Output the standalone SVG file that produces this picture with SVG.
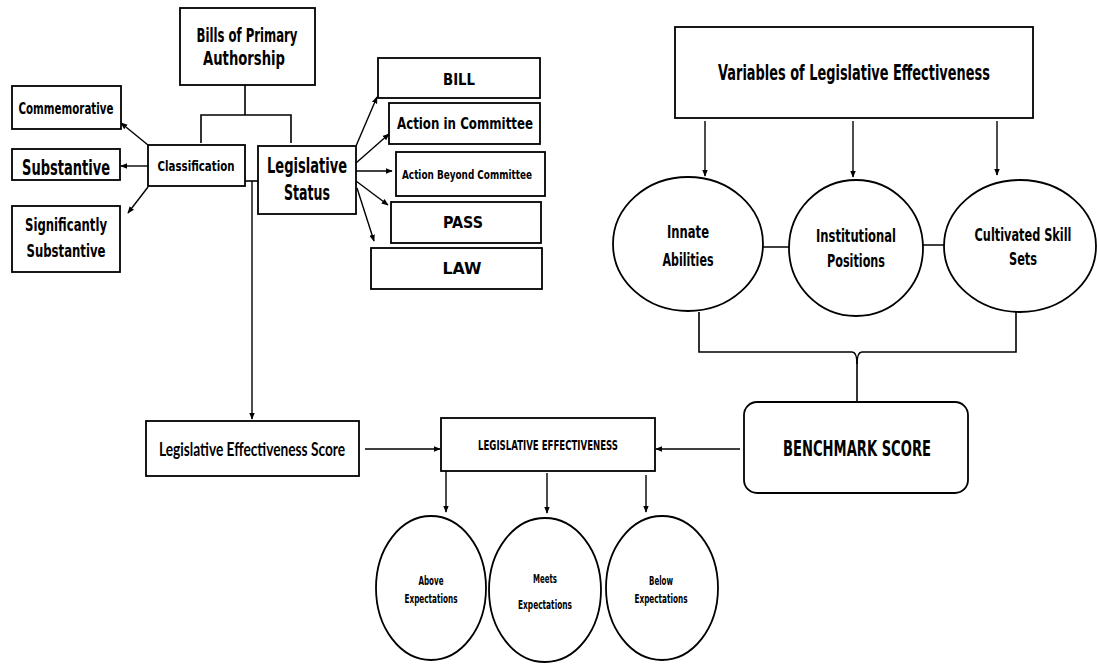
<svg xmlns="http://www.w3.org/2000/svg" width="1097" height="664" viewBox="0 0 1097 664">
<style>
.b{fill:#fff;stroke:#000;stroke-width:1.8}
.t{font-family:"DejaVu Sans Condensed","DejaVu Sans",sans-serif;font-weight:bold;fill:#000;text-anchor:middle}
.c{font-family:Lato,"Liberation Sans",sans-serif;font-weight:bold;fill:#000;text-anchor:middle}
.l{fill:none;stroke:#000;stroke-width:1.6}
.a{fill:none;stroke:#000;stroke-width:1.4;marker-end:url(#ah)}
</style>
<defs>
<marker id="ah" viewBox="0 0 10 10" refX="9" refY="5" markerWidth="7" markerHeight="7" orient="auto" markerUnits="userSpaceOnUse">
<path d="M0,1 L10,5 L0,9 z" fill="#000"/>
</marker>
</defs>
<rect width="1097" height="664" fill="#fff"/>

<g id="connectors">
<path class="l" d="M245,85 V115 M201,143 V115 H291 V143"/>
<path class="a" d="M148,145 L121,123"/>
<path class="a" d="M148,166 H121"/>
<path class="a" d="M148,187 L128,213"/>
<path class="l" d="M245,181 H258"/>
<path class="a" d="M252,181 V419"/>
<path class="a" d="M356,146 L377,97"/>
<path class="a" d="M356,163 L389,134"/>
<path class="a" d="M356,171 H392"/>
<path class="a" d="M356,181 L388,205"/>
<path class="a" d="M357,188 L374,241"/>
<path class="a" d="M705,121 V176"/>
<path class="a" d="M853,121 V177"/>
<path class="a" d="M997,121 V175"/>
<path class="l" d="M763,247 H789 M923,245 H944"/>
<path class="l" d="M699,312 V352 H852 Q857,352 857,364 Q857,352 862,352 H1016 V312"/>
<path class="l" d="M857,362 V402"/>
<path class="a" d="M365,449 H440"/>
<path class="a" d="M740,449 H656"/>
<path class="a" d="M446,471 V512"/>
<path class="a" d="M547,473 V513"/>
<path class="a" d="M646,475 V512"/>
</g>

<g id="bills">
<rect class="b" x="180" y="8" width="135" height="77"/>
<text class="t" x="247" y="42" font-size="19.5" textLength="101" lengthAdjust="spacingAndGlyphs">Bills of Primary</text>
<text class="t" x="244" y="65" font-size="19.5" textLength="82" lengthAdjust="spacingAndGlyphs">Authorship</text>
</g>
<g id="commemorative">
<rect class="b" x="12" y="86" width="109" height="43"/>
<text class="t" x="66" y="114" font-size="15" textLength="95" lengthAdjust="spacingAndGlyphs">Commemorative</text>
</g>
<g id="substantive">
<rect class="b" x="12" y="149" width="108" height="31"/>
<text class="t" x="66" y="175" font-size="20.5" textLength="88" lengthAdjust="spacingAndGlyphs">Substantive</text>
</g>
<g id="significantly">
<rect class="b" x="12" y="206" width="108" height="66"/>
<text class="t" x="66" y="231" font-size="17.5" textLength="82" lengthAdjust="spacingAndGlyphs">Significantly</text>
<text class="t" x="66" y="257" font-size="17.5" textLength="79" lengthAdjust="spacingAndGlyphs">Substantive</text>
</g>
<g id="classification">
<rect class="b" x="148" y="145" width="97" height="41"/>
<text class="t" x="196" y="171" font-size="14.5" textLength="77" lengthAdjust="spacingAndGlyphs">Classification</text>
</g>
<g id="status">
<rect class="b" x="258" y="146" width="98" height="68"/>
<text class="t" x="307" y="173" font-size="21.5" textLength="80" lengthAdjust="spacingAndGlyphs">Legislative</text>
<text class="t" x="307" y="200" font-size="21.5" textLength="46" lengthAdjust="spacingAndGlyphs">Status</text>
</g>
<g id="bill">
<rect class="b" x="378" y="58" width="162" height="40"/>
<text class="t" x="459" y="85" font-size="15" textLength="32" lengthAdjust="spacingAndGlyphs">BILL</text>
</g>
<g id="committee">
<rect class="b" x="389" y="103" width="151" height="41"/>
<text class="t" x="465" y="129" font-size="16" textLength="136" lengthAdjust="spacingAndGlyphs">Action in Committee</text>
</g>
<g id="beyond">
<rect class="b" x="396" y="152" width="149" height="44" stroke-width="1.2"/>
<text class="t" x="467" y="179" font-size="12.5" textLength="130" lengthAdjust="spacingAndGlyphs">Action Beyond Committee</text>
</g>
<g id="pass">
<rect class="b" x="391" y="202" width="150" height="41"/>
<text class="t" x="463" y="228" font-size="15" textLength="40" lengthAdjust="spacingAndGlyphs">PASS</text>
</g>
<g id="law">
<rect class="b" x="371" y="248" width="171" height="41"/>
<text class="t" x="462" y="274" font-size="15" textLength="39" lengthAdjust="spacingAndGlyphs">LAW</text>
</g>
<g id="variables">
<rect class="b" x="675" y="27" width="358" height="91"/>
<text class="t" transform="translate(854,80) scale(0.6,1)" x="0" y="0" font-size="21.5" textLength="453" lengthAdjust="spacingAndGlyphs">Variables of Legislative Effectiveness</text>
</g>
<g id="innate">
<ellipse class="b" cx="688" cy="244" rx="75" ry="67" stroke-width="1.5"/>
<text class="t" x="688" y="238" font-size="17" textLength="42" lengthAdjust="spacingAndGlyphs">Innate</text>
<text class="t" x="688" y="266" font-size="17" textLength="51" lengthAdjust="spacingAndGlyphs">Abilities</text>
</g>
<g id="institutional">
<ellipse class="b" cx="856" cy="248" rx="67" ry="68" stroke-width="1.5"/>
<text class="t" x="856" y="242" font-size="17" textLength="80" lengthAdjust="spacingAndGlyphs">Institutional</text>
<text class="t" x="856" y="267" font-size="17" textLength="58" lengthAdjust="spacingAndGlyphs">Positions</text>
</g>
<g id="cultivated">
<ellipse class="b" cx="1020" cy="246" rx="76" ry="66" stroke-width="1.5"/>
<text class="t" transform="translate(1023,241) scale(0.65,1)" x="0" y="0" font-size="17" textLength="149" lengthAdjust="spacingAndGlyphs">Cultivated Skill</text>
<text class="t" x="1023" y="265" font-size="17" textLength="28" lengthAdjust="spacingAndGlyphs">Sets</text>
</g>
<g id="benchmark">
<rect class="b" x="744" y="402" width="224" height="91" rx="13"/>
<text class="t" x="857" y="456" font-size="21.5" textLength="148" lengthAdjust="spacingAndGlyphs">BENCHMARK SCORE</text>
</g>
<g id="score">
<rect class="b" x="146" y="421" width="213" height="55"/>
<text class="c" x="252" y="456" font-size="18" textLength="186" lengthAdjust="spacingAndGlyphs">Legislative Effectiveness Score</text>
</g>
<g id="effectiveness">
<rect class="b" x="441" y="418" width="214" height="53"/>
<text class="t" x="548" y="450" font-size="13.5" textLength="140" lengthAdjust="spacingAndGlyphs">LEGISLATIVE EFFECTIVENESS</text>
</g>
<g id="above">
<ellipse class="b" cx="431" cy="588" rx="55" ry="72" stroke-width="1.4"/>
<text class="t" x="431" y="585" font-size="12" textLength="25" lengthAdjust="spacingAndGlyphs">Above</text>
<text class="t" x="431" y="603" font-size="12" textLength="53" lengthAdjust="spacingAndGlyphs">Expectations</text>
</g>
<g id="meets">
<ellipse class="b" cx="545" cy="590" rx="56" ry="72" stroke-width="1.4"/>
<text class="t" x="545" y="583" font-size="12" textLength="24" lengthAdjust="spacingAndGlyphs">Meets</text>
<text class="t" x="545" y="609" font-size="12" textLength="54" lengthAdjust="spacingAndGlyphs">Expectations</text>
</g>
<g id="below">
<ellipse class="b" cx="662" cy="588" rx="56" ry="72" stroke-width="1.4"/>
<text class="t" x="661" y="585" font-size="12" textLength="24" lengthAdjust="spacingAndGlyphs">Below</text>
<text class="t" x="661" y="603" font-size="12" textLength="53" lengthAdjust="spacingAndGlyphs">Expectations</text>
</g>
</svg>
